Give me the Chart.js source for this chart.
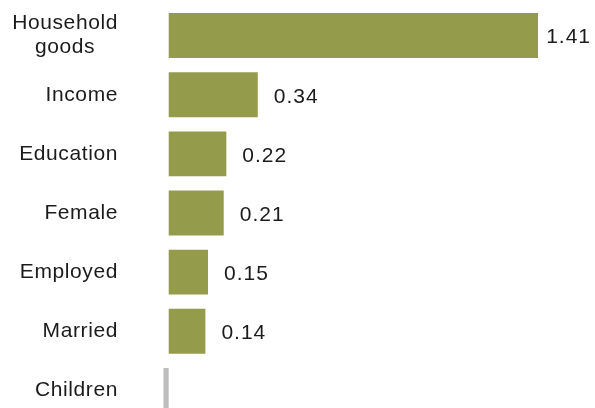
<!DOCTYPE html>
<html>
<head>
<meta charset="utf-8">
<script src="https://cdn.jsdelivr.net/npm/chart.js@4"></script>
<style>
    html, body { margin: 0; padding: 0; background: #fff; overflow: hidden; }
    #wrap { width: 595px; height: 420px; position: relative; }
</style>
</head>
<body>
<div id="wrap"><canvas id="effectsChart"></canvas></div>
<script>
// Chart data
const categories = [['Household', 'goods'], 'Income', 'Education', 'Female', 'Employed', 'Married', 'Children'];
const effects = [1.41, 0.34, 0.22, 0.21, 0.15, 0.14, -0.02];

const barColor = '#949c4b';
const nullColor = '#bdbdbd';
const textColor = '#1b1b1b';
const fontFamily = '"Liberation Sans", Arial, sans-serif';

// Category labels: right aligned, multi-line labels centred on themselves
const categoryLabels = {
    id: 'categoryLabels',
    afterDraw(chart) {
        const ctx = chart.ctx;
        const yScale = chart.scales.y;
        const xRight = chart.chartArea.left - 35;
        ctx.save();
        ctx.font = '21px ' + fontFamily;
        ctx.letterSpacing = '0.6px';
        ctx.fillStyle = textColor;
        ctx.textAlign = 'center';
        ctx.textBaseline = 'middle';
        categories.forEach((label, i) => {
            const lines = Array.isArray(label) ? label : [label];
            const widest = Math.max(...lines.map(l => ctx.measureText(l).width));
            const y = yScale.getPixelForValue(i);
            const lineHeight = 24;
            lines.forEach((line, j) => {
                const dy = (j - (lines.length - 1) / 2) * lineHeight;
                ctx.fillText(line, xRight - widest / 2, y + dy);
            });
        });
        ctx.restore();
    }
};

// Value labels at the end of each bar
const valueLabels = {
    id: 'valueLabels',
    afterDatasetsDraw(chart) {
        const ctx = chart.ctx;
        const meta = chart.getDatasetMeta(0);
        ctx.save();
        ctx.font = '21px ' + fontFamily;
        ctx.letterSpacing = '1px';
        ctx.fillStyle = textColor;
        ctx.textAlign = 'left';
        ctx.textBaseline = 'middle';
        meta.data.forEach((bar, i) => {
            if (effects[i] <= 0) return;
            const text = effects[i].toFixed(2);
            const w = ctx.measureText(text).width;
            const x = Math.min(bar.x + 16, chart.width - w - 4);
            ctx.fillText(text, x, bar.y + 2);
        });
        ctx.restore();
    }
};

new Chart(document.getElementById('effectsChart').getContext('2d'), {
    type: 'bar',
    data: {
        labels: categories,
        datasets: [{
            data: effects,
            backgroundColor: effects.map(v => v > 0 ? barColor : nullColor),
            borderWidth: 0,
            categoryPercentage: 1,
            barPercentage: 0.76
        }]
    },
    options: {
        indexAxis: 'y',
        responsive: true,
        maintainAspectRatio: false,
        animation: false,
        layout: {
            padding: { top: 6, right: 2, bottom: 0, left: 0 }
        },
        plugins: {
            legend: { display: false },
            tooltip: { enabled: false }
        },
        scales: {
            x: {
                display: false,
                min: -0.06,
                max: 1.62
            },
            y: {
                grid: { display: false },
                border: { display: false },
                ticks: { display: false },
                afterFit: function(scale) {
                    scale.width = 153;
                }
            }
        }
    },
    plugins: [categoryLabels, valueLabels]
});
</script>
</body>
</html>
